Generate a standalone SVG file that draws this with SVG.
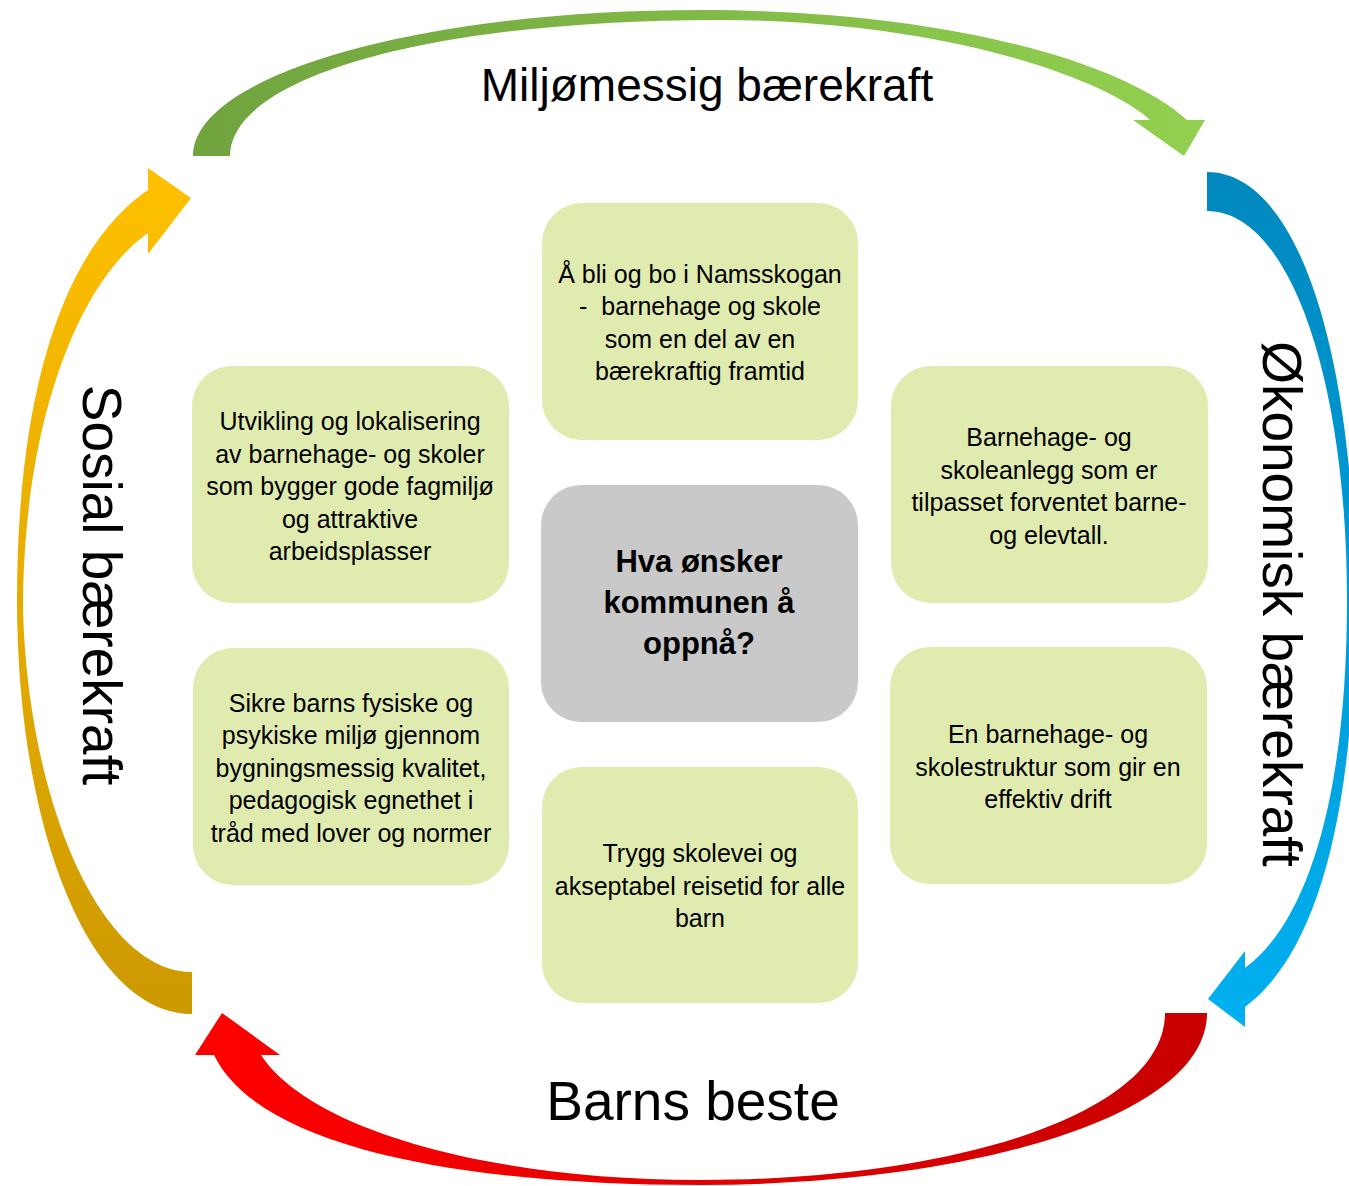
<svg xmlns="http://www.w3.org/2000/svg" width="1349" height="1186" viewBox="0 0 1349 1186">
<style>
.box{fill:#E0EBB0;}
.hub{fill:#C9C9C9;}
.t{font-family:"Liberation Sans",Arial,sans-serif;font-size:25px;fill:#000;text-anchor:middle;}
.h{font-family:"Liberation Sans",Arial,sans-serif;font-size:31px;font-weight:bold;fill:#000;text-anchor:middle;}
.lab{font-family:"Liberation Sans",Arial,sans-serif;font-size:55px;fill:#000;text-anchor:middle;}
</style>
<defs>
<linearGradient id="gTop" gradientUnits="userSpaceOnUse" x1="193" y1="0" x2="1205" y2="0">
<stop offset="0" stop-color="#70A33E"/><stop offset="1" stop-color="#92D050"/>
</linearGradient>
<linearGradient id="gRight" gradientUnits="userSpaceOnUse" x1="0" y1="172" x2="0" y2="1027">
<stop offset="0" stop-color="#0088BE"/><stop offset="1" stop-color="#00B0F0"/>
</linearGradient>
<linearGradient id="gBottom" gradientUnits="userSpaceOnUse" x1="195" y1="0" x2="1207" y2="0">
<stop offset="0" stop-color="#FF0000"/><stop offset="1" stop-color="#C80000"/>
</linearGradient>
<linearGradient id="gLeft" gradientUnits="userSpaceOnUse" x1="0" y1="168" x2="0" y2="1014">
<stop offset="0" stop-color="#FFC000"/><stop offset="1" stop-color="#CC9900"/>
</linearGradient>
</defs>
<rect width="1349" height="1186" fill="#FFFFFF"/>

<g id="connectors">
<path id="arrow-top" fill="url(#gTop)" d="M193,156 C193,75 420,10 700,10 C940,10 1120,60 1187,120 L1205,120 L1184,156 L1133,120 L1150,120 C1105,78 940,20 720,20 C420,20 230,80 230,156 Z"/>
<path id="arrow-right" fill="url(#gRight)" d="M1207,172 C1300,172 1355,360 1355,600 C1355,820 1315,955 1245,1007 L1245,1027 L1208,999 L1245,951 L1245,968 C1310,920 1347,790 1347,600 C1347,380 1290,211 1207,211 Z"/>
<path id="arrow-bottom" fill="url(#gBottom)" d="M1207,1013 C1207,1120 960,1185 700,1185 C470,1185 260,1150 214,1055 L195,1055 L222,1013 L280,1055 L261,1055 C310,1130 490,1180 700,1180 C950,1180 1165,1115 1165,1013 Z"/>
<path id="arrow-left" fill="url(#gLeft)" d="M192,1014 C90,1014 17,830 17,600 C17,400 60,250 148,190 L148,168 L191,198 L148,254 L148,233 C80,280 23,420 23,610 C28,800 100,972 192,972 Z"/>
<text class="lab" x="707" y="101" style="font-size:46px">Miljømessig bærekraft</text>
<text class="lab" x="693" y="1120">Barns beste</text>
<text class="lab" transform="translate(83,585) rotate(90)">Sosial bærekraft</text>
<text class="lab" transform="translate(1263,604) rotate(90)">Økonomisk bærekraft</text>
</g>

<g id="node-top">
<rect class="box" x="542" y="203" width="316" height="237" rx="40" ry="40"/>
<text class="t" x="700" y="282.5">Å bli og bo i Namsskogan</text>
<text class="t" x="700" y="315" style="white-space:pre">-  barnehage og skole</text>
<text class="t" x="700" y="347.5">som en del av en</text>
<text class="t" x="700" y="380">bærekraftig framtid</text>
</g>

<g id="node-center">
<rect class="hub" x="541" y="485" width="317" height="237" rx="40" ry="40"/>
<text class="h" x="699" y="572">Hva ønsker</text>
<text class="h" x="699" y="613">kommunen å</text>
<text class="h" x="699" y="654">oppnå?</text>
</g>

<g id="node-bottom">
<rect class="box" x="542" y="767" width="316" height="236" rx="40" ry="40"/>
<text class="t" x="700" y="862">Trygg skolevei og</text>
<text class="t" x="700" y="894.5">akseptabel reisetid for alle</text>
<text class="t" x="700" y="927">barn</text>
</g>

<g id="node-left-upper">
<rect class="box" x="192" y="366" width="317" height="237" rx="40" ry="40"/>
<text class="t" x="350" y="430">Utvikling og lokalisering</text>
<text class="t" x="350" y="462.5">av barnehage- og skoler</text>
<text class="t" x="350" y="495">som bygger gode fagmiljø</text>
<text class="t" x="350" y="527.5">og attraktive</text>
<text class="t" x="350" y="560">arbeidsplasser</text>
</g>

<g id="node-left-lower">
<rect class="box" x="193" y="648" width="316" height="237" rx="40" ry="40"/>
<text class="t" x="351" y="711.5">Sikre barns fysiske og</text>
<text class="t" x="351" y="744">psykiske miljø gjennom</text>
<text class="t" x="351" y="776.5">bygningsmessig kvalitet,</text>
<text class="t" x="351" y="809">pedagogisk egnethet i</text>
<text class="t" x="351" y="841.5">tråd med lover og normer</text>
</g>

<g id="node-right-upper">
<rect class="box" x="891" y="366" width="317" height="237" rx="40" ry="40"/>
<text class="t" x="1049" y="446">Barnehage- og</text>
<text class="t" x="1049" y="478.5">skoleanlegg som er</text>
<text class="t" x="1049" y="511">tilpasset forventet barne-</text>
<text class="t" x="1049" y="543.5">og elevtall.</text>
</g>

<g id="node-right-lower">
<rect class="box" x="890" y="647" width="317" height="237" rx="40" ry="40"/>
<text class="t" x="1048" y="743">En barnehage- og</text>
<text class="t" x="1048" y="775.5">skolestruktur som gir en</text>
<text class="t" x="1048" y="808">effektiv drift</text>
</g>
</svg>
